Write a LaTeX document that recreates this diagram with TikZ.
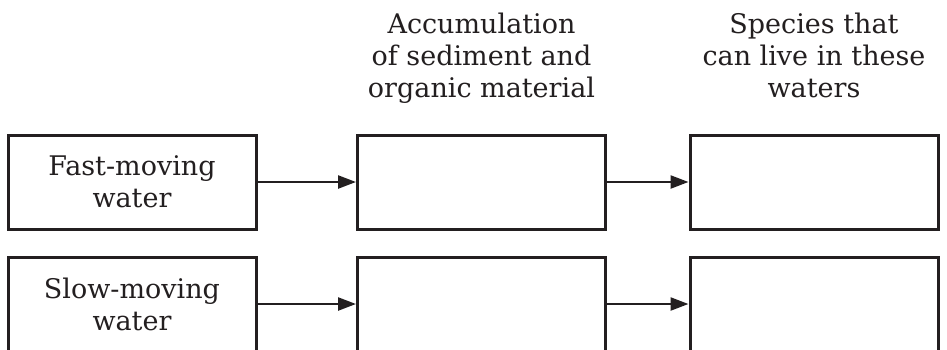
\documentclass[tikz,border=0pt]{standalone}
\usepackage{fontspec}
\setmainfont{DejaVu Serif}
\usetikzlibrary{arrows.meta}
\definecolor{ink}{HTML}{231F20}
\begin{document}
\begin{tikzpicture}[x=1pt,y=-1pt,
  box/.style={draw=ink, line width=3pt, rectangle, minimum width=248pt, minimum height=94pt, inner sep=0pt, text=ink, align=center, font=\fontsize{27}{32}\selectfont},
  head/.style={text=ink, align=center, inner sep=0pt, font=\fontsize{27}{32}\selectfont},
  arr/.style={draw=ink, line width=2.4pt, -{Triangle[length=18pt,width=13pt]}}]
\useasboundingbox (0,0) rectangle (947,349);
\clip (0,0) rectangle (947,349);
\fill[white] (0,0) rectangle (947,349);
\node[head, anchor=base] (h2) at (481.5,97) {Accumulation\\of sediment and\\organic material};
\node[head, anchor=base] (h3) at (814,97) {Species that\\can live in these\\waters};
\node[box] (a1) at (132,182) {Fast-moving\\water};
\node[box] (b1) at (481.5,182) {};
\node[box] (c1) at (814,182) {};
\node[box] (a2) at (132,304) {Slow-moving\\water};
\node[box] (b2) at (481.5,304) {};
\node[box] (c2) at (814,304) {};
\draw[arr] (a1.east) -- (b1.west);
\draw[arr] (b1.east) -- (c1.west);
\draw[arr] (a2.east) -- (b2.west);
\draw[arr] (b2.east) -- (c2.west);
\end{tikzpicture}
\end{document}
